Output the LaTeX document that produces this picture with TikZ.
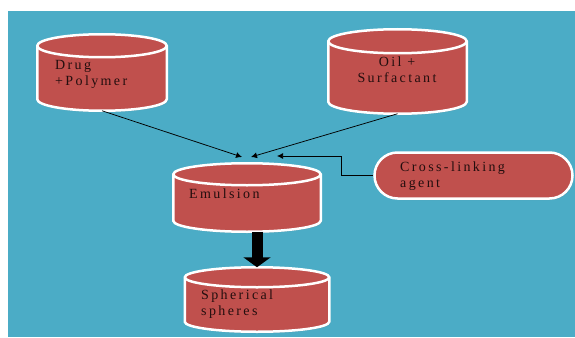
\documentclass[tikz,border=0pt]{standalone}
\usepackage{fontspec}
\setmainfont{Liberation Serif}
\newfontfamily\boxfont[LetterSpace=17]{Liberation Serif}
\usetikzlibrary{calc,arrows.meta,shadows}
\definecolor{bgblue}{RGB}{75,172,198}
\definecolor{cylred}{RGB}{192,80,77}
\definecolor{txtdark}{RGB}{35,14,14}
\tikzset{
  tankbody/.style={draw=white, line width=2.5pt, fill=cylred,
    drop shadow={shadow xshift=1pt, shadow yshift=-1.5pt, opacity=0.25}},
  tankrim/.style={draw=white, line width=2.5pt},
  agentbox/.style={rectangle, rounded corners=23pt, draw=white, line width=2.5pt, fill=cylred,
    drop shadow={shadow xshift=1pt, shadow yshift=-1.5pt, opacity=0.25}},
  lbl/.style={font=\boxfont\fontsize{14}{16}\selectfont, text=txtdark, inner sep=0pt},
  feed/.style={draw=black, line width=0.75pt, -{Latex[length=6pt,width=6pt]}},
  bigarrow/.style={draw=black, line width=11pt, -{Triangle[length=10pt,width=27pt]}}
}
% name, cx, cy, width, height, ellipse y radius
\newcommand{\tank}[6]{%
  \node[inner sep=0pt, outer sep=0pt, minimum width=#4pt, minimum height=#5pt] (#1) at (#2,#3) {};
  \filldraw[tankbody] ($(#1.north west)+(0,#6)$) -- ($(#1.south west)+(0,-#6)$)
    arc[start angle=180, end angle=0, x radius=#4/2, y radius=#6]
    -- ($(#1.north east)+(0,#6)$)
    arc[start angle=0, end angle=-180, x radius=#4/2, y radius=#6] -- cycle;
  \draw[tankrim] ($(#1.north west)+(0,#6)$) arc[start angle=180, end angle=0, x radius=#4/2, y radius=#6];
}
\begin{document}
\begin{tikzpicture}[x=1pt,y=-1pt]
  % page and backdrop
  \fill[white] (0,0) rectangle (575,337);
  \fill[bgblue] (8,11) rectangle (575,337);
  \useasboundingbox (0,0) rectangle (575,337);
  % vessels
  \tank{drug}{102}{72.5}{129.5}{76.5}{11.5}
  \tank{oil}{397.5}{71.5}{138.5}{84.5}{12}
  \tank{emul}{247}{197.5}{147.5}{68.5}{11}
  \tank{sph}{257}{299.5}{144.5}{64.5}{10}
  \node[agentbox, minimum width=198pt, minimum height=46pt] (cross) at (473.5,175.5) {};
  % labels
  \node[lbl, align=left, anchor=west] (drugtxt) at (55,74) {Drug\\+Polymer};
  \node[lbl, align=center] (oiltxt) at (397,70) {Oil +\\Surfactant};
  \node[lbl, anchor=west] (emultxt) at (189,194) {Emulsion};
  \node[lbl, align=left, anchor=west] (crosstxt) at (400,176) {Cross-linking\\agent};
  \node[lbl, align=left, anchor=west] (sphtxt) at (201,304) {Spherical\\spheres};
  % inlets above emulsion
  \coordinate (inA) at (242,157);
  \coordinate (inB) at (251,157);
  \coordinate (inC) at (277,156);
  \draw[feed] (drug.south) -- (inA);
  \draw[feed] (oil.south) -- (inB);
  \draw[feed] (cross.west) -- ++(-32,0) |- (inC);
  \draw[bigarrow] (sph.north |- emul.south) -- (sph.north);
\end{tikzpicture}
\end{document}
